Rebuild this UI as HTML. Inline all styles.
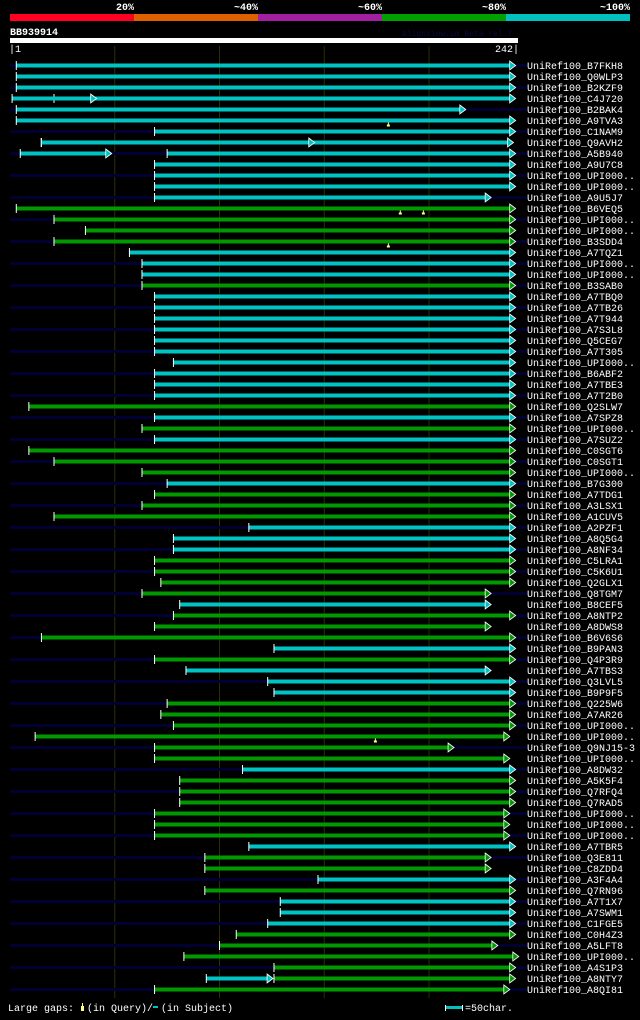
<!DOCTYPE html>
<html><head><meta charset="utf-8">
<style>
html,body{margin:0;padding:0;background:#000;}
body{width:640px;height:1015px;overflow:hidden;}
svg text{font-family:"Liberation Mono",monospace;}
</style></head>
<body>
<svg id="chart" width="640" height="1015" viewBox="0 0 640 1015" xmlns="http://www.w3.org/2000/svg">
<rect x="0" y="0" width="640" height="1015" fill="#000"/>
<g>
<rect x="10" y="14" width="124" height="7" fill="#ff0022"/>
<rect x="134" y="14" width="124" height="7" fill="#e06000"/>
<rect x="258" y="14" width="124" height="7" fill="#a020a0"/>
<rect x="382" y="14" width="124" height="7" fill="#00a000"/>
<rect x="506" y="14" width="124" height="7" fill="#00c0c0"/>
<text x="134" y="10" fill="#fff" font-size="10" font-weight="bold" text-anchor="end">20%</text>
<text x="258" y="10" fill="#fff" font-size="10" font-weight="bold" text-anchor="end">~40%</text>
<text x="382" y="10" fill="#fff" font-size="10" font-weight="bold" text-anchor="end">~60%</text>
<text x="506" y="10" fill="#fff" font-size="10" font-weight="bold" text-anchor="end">~80%</text>
<text x="630" y="10" fill="#fff" font-size="10" font-weight="bold" text-anchor="end">~100%</text>
</g>
<text x="10" y="35" fill="#fff" font-size="10" font-weight="bold">BB939914</text>
<text x="402" y="36" fill="#0a0a40" font-size="8">AlignView.pm Beta rel.7</text>
<rect x="10" y="38" width="508" height="5" fill="#fff"/>
<text x="9" y="52" fill="#fff" font-size="10">|1</text>
<text x="519" y="52" fill="#fff" font-size="10" text-anchor="end">242|</text>
<g id="grid"></g>
<g id="rows"></g>
<g>
<text x="8" y="1011" fill="#fff" font-size="10">Large gaps:</text>
<rect x="81" y="1006" width="3" height="5" fill="#ffff80"/>
<rect x="82" y="1003" width="1" height="3" fill="#ffff80"/>
<text x="87" y="1011" fill="#fff" font-size="10">(in Query)/</text>
<rect x="153" y="1006" width="5" height="2" fill="#00c0c0"/>
<text x="161" y="1011" fill="#fff" font-size="10">(in Subject)</text>
<rect x="445" y="1005" width="1" height="6" fill="#fff"/>
<rect x="446" y="1006" width="16" height="3" fill="#00c0c0"/>
<rect x="462" y="1005" width="1" height="6" fill="#fff"/>
<text x="465" y="1011" fill="#fff" font-size="10">=50char.</text>
</g>
</svg>
<script>
// ---- data ----
const labels = ["B7FKH8","Q0WLP3","B2KZF9","C4J720","B2BAK4","A9TVA3","C1NAM9","Q9AVH2","A5B940","A9U7C8","UPI000..","UPI000..","A9U5J7","B6VEQ5","UPI000..","UPI000..","B3SDD4","A7TQZ1","UPI000..","UPI000..","B3SAB0","A7TBQ0","A7TB26","A7T944","A7S3L8","Q5CEG7","A7T305","UPI000..","B6ABF2","A7TBE3","A7T2B0","Q2SLW7","A7SPZ8","UPI000..","A7SUZ2","C0SGT6","C0SGT1","UPI000..","B7G300","A7TDG1","A3LSX1","A1CUV5","A2PZF1","A8Q5G4","A8NF34","C5LRA1","C5K6U1","Q2GLX1","Q8TGM7","B8CEF5","A8NTP2","A8DWS8","B6V6S6","B9PAN3","Q4P3R9","A7TBS3","Q3LVL5","B9P9F5","Q225W6","A7AR26","UPI000..","UPI000..","Q9NJ15-3","UPI000..","A8DW32","A5K5F4","Q7RFQ4","Q7RAD5","UPI000..","UPI000..","UPI000..","A7TBR5","Q3E811","C8ZDD4","A3F4A4","Q7RN96","A7T1X7","A7SWM1","C1FGE5","C0H4Z3","A5LFT8","UPI000..","A4S1P3","A8NTY7","A8QI81"];
const starts = [3,3,3,21,3,3,69,15,75,69,69,69,69,3,21,36,21,57,63,63,63,69,69,69,69,69,69,78,69,69,69,9,69,63,69,9,21,63,75,69,63,21,114,78,78,69,69,72,63,81,78,69,15,126,69,84,123,126,75,72,78,12,69,69,111,81,81,81,69,69,69,114,93,93,147,93,129,129,123,108,100,83,126,126,69];
const ends = [238.5,238.5,238.5,238.5,214.7,238.5,238.5,237.5,238.5,238.5,238.5,238.5,226.8,238.5,238.5,238.5,238.5,238.5,238.5,238.5,238.5,238.5,238.5,238.5,238.5,238.5,238.5,238.5,238.5,238.5,238.5,238.5,238.5,238.5,238.5,238.5,238.5,238.5,238.5,238.5,238.5,238.5,238.5,238.5,238.5,238.5,238.5,238.5,226.8,226.8,238.5,226.8,238.5,238.5,238.5,226.8,238.5,238.5,238.5,238.5,238.5,235.7,209.1,235.7,238.5,238.5,238.5,238.5,235.7,235.7,235.7,238.5,226.8,226.8,238.5,238.5,238.5,238.5,238.5,238.5,230,240,238.5,238.5,235.7];
const colors = ("ccccccccccccc"+"gggg"+"ccc"+"g"+"cccccccccc"+"gcgc"+"ggg"+"c"+"ggg"+"ccc"+"gggg"+"c"+"ggg"+"c"+"g"+"ccc"+"gggggg"+"c"+"gggggg"+"c"+"gg"+"c"+"g"+"ccc"+"gggggg").split("");
// extra HSPs: row index (0-based), start, end, color
const extraRow = [3,7,8,83];
const extraStart = [1,14.9,4.9,93.7];
const extraEnd = [38.5,142.6,45.7,122.7];
const extraColor = ["c","c","c","c"];
// large gaps in query (yellow markers): row, position
const gapRow = [5,13,13,16,61];
const gapPos = [180.6,186.3,197.3,180.6,174.4];
const gridTicks = [50,100,150,200];

// ---- scales ----
const QLEN = 242, X0 = 10, X1 = 517;
const xs = aa => X0 + aa * (X1 - X0) / QLEN;
const ys = i => 65.5 + i * 11;
const COL = {c:"#00c4c4", g:"#009900"};
const NS = "http://www.w3.org/2000/svg";
function mk(tag, attrs, parent){const e=document.createElementNS(NS,tag);for(const k in attrs)e.setAttribute(k,attrs[k]);parent.appendChild(e);return e;}

const grid = document.getElementById('grid');
gridTicks.forEach(t=>{
  const l = mk('line',{x1:xs(t),x2:xs(t),y1:46,y2:998,stroke:"#2e2e00","stroke-width":1},grid);
  
  
});

const rowsG = document.getElementById('rows');
function seg(g, y, s, e, c){
  const col = COL[c];
  mk('rect',{x:xs(s),y:y-2,width:Math.max(0,xs(e)-xs(s)),height:4,fill:col},g);
  mk('rect',{x:xs(s)-0.5,y:y-4.5,width:1,height:9,fill:"#fff"},g);
  const ax = xs(e);
  mk('polygon',{points:`${ax},${y-4.5} ${ax+6},${y} ${ax},${y+4.5}`,fill:col,stroke:"#fff","stroke-width":0.8},g);
}
labels.forEach((lab,i)=>{
  const y = ys(i);
  const g = mk('g',{},rowsG);
  
  
  if(i%2===0){ mk('rect',{x:10,y:y-1.5,width:517,height:3,fill:"#000033"},g); }
  seg(g,y,starts[i],ends[i],colors[i]);
  extraRow.forEach((r,k)=>{ if(r===i) seg(g,y,extraStart[k],extraEnd[k],extraColor[k]); });
  gapRow.forEach((r,k)=>{ if(r===i){
    const gx = xs(gapPos[k]);
    mk('rect',{x:gx-0.5,y:y+2,width:1,height:2,fill:"#ffff80"},g);
    mk('rect',{x:gx-1.5,y:y+4,width:3,height:2,fill:"#ffff80"},g);
  }});
  const t = mk('text',{x:527,y:y+3.5,fill:"#fff","font-size":10},g);
  t.textContent = "UniRef100_"+lab;
  
  
});
</script>
</body></html>
